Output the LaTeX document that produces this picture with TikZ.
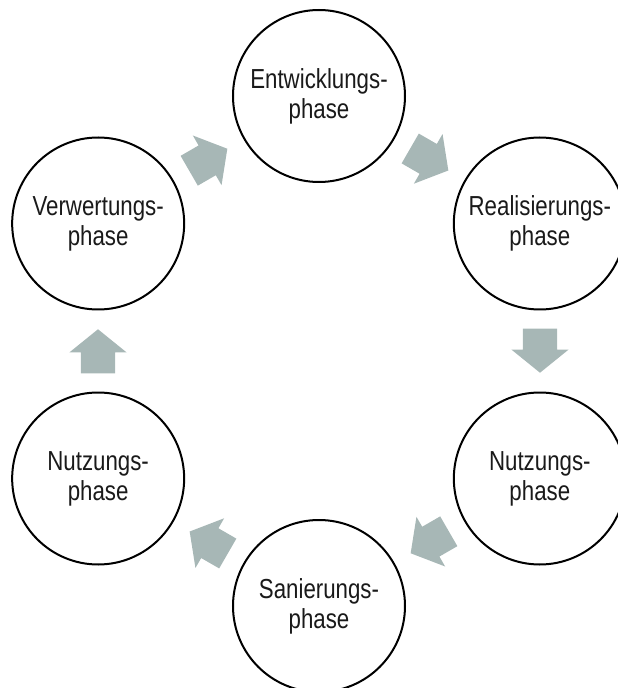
\documentclass[tikz,border=0pt]{standalone}
\usepackage{fontspec}
\setmainfont{Liberation Sans}[FakeStretch=0.81]
\usetikzlibrary{shapes.arrows}
\definecolor{pfeilgrau}{RGB}{167,183,182}
\definecolor{textschwarz}{RGB}{26,26,26}
\tikzset{
  phase/.style={circle, draw=black, line width=2pt, fill=white, minimum size=172pt,
    inner sep=0pt, align=center, text=textschwarz,
    font=\fontsize{27.5}{30}\selectfont},
  pfeil/.style={single arrow, fill=pfeilgrau, draw=none, minimum height=44pt,
    minimum width=57pt, single arrow head extend=11.5pt, single arrow tip angle=102,
    inner xsep=0pt, inner ysep=17pt, anchor=tip}
}

\begin{document}
\begin{tikzpicture}[x=1pt, y=1pt]
%%% Lebenszyklus %%%
\useasboundingbox (-319,-337) rectangle (299,351);
\clip (-319,-337) rectangle (299,351);

      %% Phasen
      \node[phase] (entw)  at (90:255)   {Entwicklungs-\\phase};
      \node[phase] (real)  at (30:255)   {Realisierungs-\\phase};
      \node[phase] (nutzr) at (-30:255)  {Nutzungs-\\phase};
      \node[phase] (san)   at (-90:255)  {Sanierungs-\\phase};
      \node[phase] (nutzl) at (-150:255) {Nutzungs-\\phase};
      \node[phase] (verw)  at (150:255)  {Verwertungs-\\phase};

      %% Pfeile (Spitze 22pt vor der Kantenmitte)
      \node[pfeil, rotate=-30]  (p1) at ([shift={(-30:22)}]60:221)   {};
      \node[pfeil, rotate=-90]  (p2) at ([shift={(-90:22)}]0:221)    {};
      \node[pfeil, rotate=-150] (p3) at ([shift={(-150:22)}]-60:221) {};
      \node[pfeil, rotate=150]  (p4) at ([shift={(150:22)}]-120:221) {};
      \node[pfeil, rotate=90]   (p5) at ([shift={(90:22)}]180:221)   {};
      \node[pfeil, rotate=30]   (p6) at ([shift={(30:22)}]120:221)   {};

\end{tikzpicture}
\end{document}
